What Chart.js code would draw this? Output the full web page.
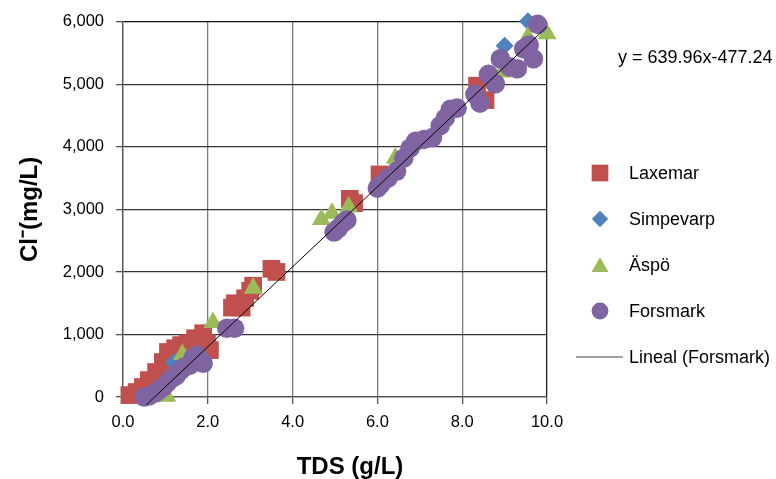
<!DOCTYPE html>
<html>
<head>
<meta charset="utf-8">
<script src="https://cdn.jsdelivr.net/npm/chart.js@4.4.0/dist/chart.umd.min.js"></script>
<style>
  html, body { margin: 0; padding: 0; background: #fff; }
</style>
</head>
<body>
<canvas id="chart" width="776" height="479"></canvas>
<script>
// Cl vs TDS per site (TDS in g/L, Cl in mg/L)
const laxemarTDS = [0.15, 0.32, 0.47, 0.61, 0.78, 0.94, 1.06, 1.23, 1.37, 1.53, 1.70, 1.89, 1.98, 2.05, 2.57, 2.64, 2.80, 2.88, 3.00, 3.07, 3.50, 3.62, 5.35, 5.45, 6.05, 8.35, 8.55];
const laxemarCl  = [30, 80, 160, 270, 400, 560, 720, 780, 830, 860, 940, 1020, 860, 750, 1430, 1500, 1430, 1580, 1700, 1780, 2050, 2000, 3170, 3100, 3560, 4980, 4750];

const simpevarpTDS = [1.20, 9.00, 9.55];
const simpevarpCl  = [550, 5620, 6010];

const aspoTDS = [1.03, 1.40, 2.12, 3.07, 4.68, 4.93, 5.32, 6.42, 8.94, 9.55, 10.0];
const aspoCl  = [10, 680, 1190, 1740, 2840, 2940, 3040, 3820, 5200, 5760, 5810];

const forsmarkTDS = [0.50, 0.62, 0.75, 0.85, 0.95, 1.05, 1.15, 1.25, 1.35, 1.45, 1.58, 1.75, 1.89, 1.65, 2.45, 2.63, 4.98, 5.08, 5.20, 5.28, 6.00, 6.08, 6.25, 6.45, 6.62, 6.77, 6.90, 7.10, 7.30, 7.48, 7.60, 7.72, 7.88, 8.30, 8.42, 8.62, 8.78, 8.90, 9.12, 9.30, 9.45, 9.58, 9.68, 9.78];
const forsmarkCl  = [0, 20, 60, 110, 160, 230, 300, 340, 420, 480, 510, 670, 540, 620, 1100, 1100, 2640, 2700, 2790, 2830, 3340, 3400, 3500, 3610, 3820, 3980, 4090, 4120, 4150, 4340, 4460, 4600, 4620, 4840, 4700, 5160, 5010, 5410, 5280, 5250, 5570, 5630, 5410, 5960];

// linear fit of Forsmark
const trendSlope = 639.96;
const trendIntercept = -477.24;
const trendRange = [0.55, 10.0];

const xTicks = [0, 2, 4, 6, 8, 10];
const yTicks = [0, 1000, 2000, 3000, 4000, 5000, 6000];

const FONT = '"Liberation Sans", Arial, sans-serif';

function pts(xs, ys) {
  return xs.map((x, i) => ({ x: x, y: ys[i] }));
}

const trendData = trendRange.map(x => ({ x: x, y: trendSlope * x + trendIntercept }));

// legend on the right, x-axis title and fit equation
const sideLegend = {
  id: 'sideLegend',
  afterDraw(chart) {
    const ctx = chart.ctx;
    const rows = [
      { label: 'Laxemar', style: 'rect', color: '#C0504D', r: 11.8 },
      { label: 'Simpevarp', style: 'rectRot', color: '#4F81BD', r: 8.2 },
      { label: 'Äspö', style: 'triangle', color: '#9BBB59', r: 9.8 },
      { label: 'Forsmark', style: 'circle', color: '#8064A2', r: 8.4 },
      { label: 'Lineal (Forsmark)', style: 'line' }
    ];
    const top = 173, step = 46, cx = 600, textX = 629;
    ctx.save();
    rows.forEach((row, i) => {
      const y = top + i * step;
      if (row.style === 'line') {
        ctx.strokeStyle = '#7f7f7f';
        ctx.lineWidth = 1.5;
        ctx.beginPath();
        ctx.moveTo(576, y);
        ctx.lineTo(623, y);
        ctx.stroke();
      } else {
        ctx.fillStyle = row.color;
        const yy = row.style === 'triangle' ? y + 2 : y;
        Chart.helpers.drawPoint(ctx, { pointStyle: row.style, radius: row.r, rotation: 0, borderWidth: 0 }, cx, yy);
      }
      ctx.fillStyle = '#000';
      ctx.font = '18px ' + FONT;
      ctx.textAlign = 'left';
      ctx.textBaseline = 'middle';
      ctx.fillText(row.label, textX, y + 1);
    });
    ctx.fillText('y = ' + trendSlope.toFixed(2) + 'x' + trendIntercept.toFixed(2), 618, 58);

    ctx.font = 'bold 24px ' + FONT;
    ctx.textAlign = 'center';
    ctx.fillText('TDS (g/L)', 350, 467);
    ctx.restore();
  }
};

new Chart(document.getElementById('chart'), {
  type: 'scatter',
  data: {
    datasets: [
      {
        label: 'Lineal (Forsmark)',
        type: 'line',
        data: trendData,
        borderColor: '#000',
        borderWidth: 1,
        pointRadius: 0,
        fill: false,
        clip: false,
        order: 0
      },
      {
        label: 'Forsmark',
        data: pts(forsmarkTDS, forsmarkCl),
        pointStyle: 'circle',
        pointRadius: 9.8,
        pointHoverRadius: 9.8,
        backgroundColor: '#8064A2',
        borderWidth: 0,
        clip: false,
        order: 1
      },
      {
        label: 'Äspö',
        data: pts(aspoTDS, aspoCl),
        pointStyle: 'triangle',
        pointRadius: 11,
        backgroundColor: '#9BBB59',
        borderWidth: 0,
        clip: false,
        order: 2
      },
      {
        label: 'Simpevarp',
        data: pts(simpevarpTDS, simpevarpCl),
        pointStyle: 'rectRot',
        pointRadius: 9,
        backgroundColor: '#4F81BD',
        borderWidth: 0,
        clip: false,
        order: 3
      },
      {
        label: 'Laxemar',
        data: pts(laxemarTDS, laxemarCl),
        pointStyle: 'rect',
        pointRadius: 12.5,
        backgroundColor: '#C0504D',
        borderWidth: 0,
        clip: false,
        order: 4
      }
    ]
  },
  options: {
    responsive: false,
    animation: false,
    layout: { padding: { top: 20, right: 229, left: 0, bottom: 0 } },
    plugins: {
      legend: { display: false },
      tooltip: { enabled: false }
    },
    scales: {
      x: {
        type: 'linear',
        min: xTicks[0],
        max: xTicks[xTicks.length - 1],
        afterBuildTicks(scale) { scale.ticks = xTicks.map(v => ({ value: v })); },
        afterFit(scale) { scale.height = 82; },
        ticks: {
          callback: v => Number(v).toFixed(1),
          color: '#000',
          font: { family: FONT, size: 16.5 },
          padding: 9,
          maxRotation: 0
        },
        grid: {
          color: ctx => (ctx.tick && ctx.tick.value === 10 ? '#222' : '#7a7a7a'),
          lineWidth: 1.3,
          tickLength: 7,
          tickColor: '#555'
        },
        border: { color: '#555', width: 1.3 },
        title: { display: false }
      },
      y: {
        type: 'linear',
        min: yTicks[0],
        max: yTicks[yTicks.length - 1],
        afterBuildTicks(scale) { scale.ticks = yTicks.map(v => ({ value: v })); },
        afterFit(scale) { scale.width = 123; },
        ticks: {
          callback: v => Number(v).toLocaleString('en-US'),
          color: '#000',
          font: { family: FONT, size: 16.5 },
          padding: 12
        },
        grid: {
          color: ctx => (ctx.tick && ctx.tick.value === 6000 ? '#111' : '#333'),
          lineWidth: 1.3,
          tickLength: 7,
          tickColor: '#555'
        },
        border: { color: '#555', width: 1.3 },
        title: {
          display: true,
          text: 'Cl\u207B(mg/L)',
          color: '#000',
          font: { family: FONT, size: 24, weight: 'bold' },
          padding: { top: 16, bottom: 0 }
        }
      }
    }
  },
  plugins: [sideLegend]
});
</script>
</body>
</html>
